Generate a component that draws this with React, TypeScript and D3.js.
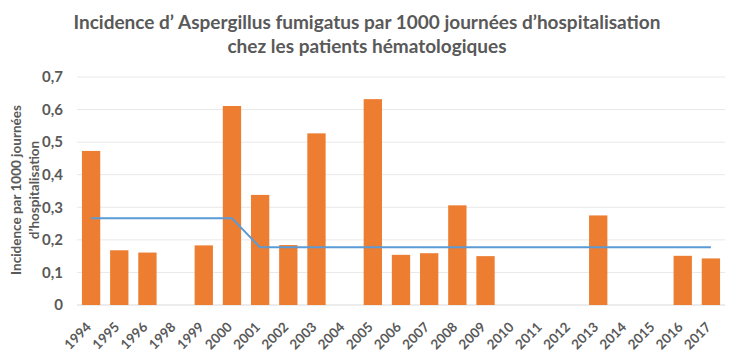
import React from 'react';
import * as d3 from 'd3';

const years = ['1994', '1995', '1996', '1998', '1999', '2000', '2001', '2002', '2003', '2004', '2005', '2006',
  '2007', '2008', '2009', '2010', '2011', '2012', '2013', '2014', '2015', '2016', '2017'];
const incidence = [0.473, 0.168, 0.161, 0, 0.183, 0.611, 0.338, 0.184, 0.527, 0, 0.632, 0.154,
  0.159, 0.306, 0.150, 0, 0, 0, 0.275, 0, 0, 0.151, 0.143];
const trend = [0.266, 0.266, 0.266, 0.266, 0.266, 0.266, 0.177, 0.177, 0.177, 0.177, 0.177, 0.177,
  0.177, 0.177, 0.177, 0.177, 0.177, 0.177, 0.177, 0.177, 0.177, 0.177, 0.177];
const yTicks = [0, 0.1, 0.2, 0.3, 0.4, 0.5, 0.6, 0.7];
const titleLines = ['Incidence d\u2019 Aspergillus fumigatus par 1000 journées d\u2019hospitalisation',
  'chez les patients hématologiques'];
const yTitleLines = ['Incidence par 1000 journées', 'd\u2019hospitalisation'];

const W = 750;
const H = 362;
const plot = { left: 77, right: 725, top: 77, bottom: 305 };
const grey = '#595959';
const font = 'Lato, "Open Sans", sans-serif';

export default function App() {
  const x = d3.scaleBand<string>().domain(years).range([plot.left, plot.right]).paddingInner(0.35).paddingOuter(0.175);
  const y = d3.scaleLinear().domain([0, 0.7]).range([plot.bottom, plot.top]);
  const fmt = (v: number) => (v === 0 ? '0' : d3.format('.1f')(v).replace('.', ','));

  const line = d3.line<number>()
    .x((_, i) => (x(years[i]) as number) + x.bandwidth() / 2)
    .y(d => y(d));

  return (
    <svg width={W} height={H} style={{ position: 'absolute', left: 0, top: 0, background: '#fff' }}
      fontFamily={font}>
      <g fill={grey} fontWeight="bold" fontSize={19} textAnchor="middle">
        {titleLines.map((t, i) => (
          <text key={i} x={367} y={29 + i * 24}>{t}</text>
        ))}
      </g>

      {yTicks.map(t => (
        <g key={t}>
          <line x1={plot.left} x2={plot.right} y1={y(t)} y2={y(t)}
            stroke={t === 0 ? '#d9d9d9' : '#e8e8e8'} strokeWidth={1} />
          <text x={63} y={y(t)} dy="0.35em" textAnchor="end" fontSize={15} fontWeight="bold" fill={grey}>{fmt(t)}</text>
        </g>
      ))}

      <g transform="translate(0,190) rotate(-90)" fill={grey} fontWeight="bold" fontSize={13.5} textAnchor="middle">
        {yTitleLines.map((t, i) => (
          <text key={i} x={0} y={21 + i * 18}>{t}</text>
        ))}
      </g>

      {years.map((yr, i) => incidence[i] > 0 && (
        <rect key={yr} x={x(yr)} y={y(incidence[i])} width={x.bandwidth()} height={y(0) - y(incidence[i])}
          fill="#ED7D31" />
      ))}

      <path d={line(trend) || ''} fill="none" stroke="#5B9BD5" strokeWidth={2} />

      {years.map(yr => {
        const cx = (x(yr) as number) + x.bandwidth() / 2;
        return (
          <text key={yr} x={0} y={0} transform={`translate(${cx + 1},${plot.bottom + 23}) rotate(-45)`}
            textAnchor="end" fontSize={13.5} fontWeight="bold" fill={grey}>{yr}</text>
        );
      })}
    </svg>
  );
}
